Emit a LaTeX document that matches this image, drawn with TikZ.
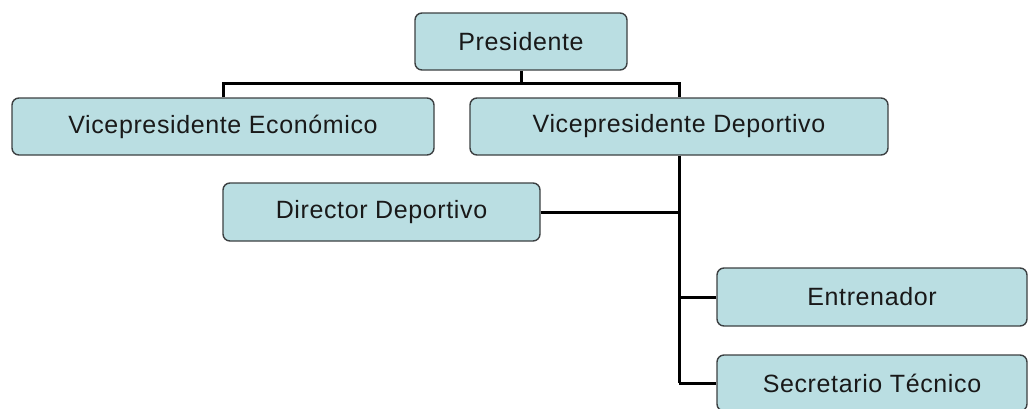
\documentclass[tikz,border=0pt]{standalone}
\usepackage{fontspec}
\setmainfont{Liberation Sans}[LetterSpace=2.5]
\definecolor{boxfill}{RGB}{186,222,226}
\definecolor{boxline}{RGB}{60,64,66}
\definecolor{txt}{RGB}{25,25,25}
\begin{document}
\begin{tikzpicture}[x=1pt,y=-1pt,
  orgbox/.style={draw=boxline,fill=boxfill,line width=1.4pt,rounded corners=7pt,
    inner sep=0pt,text=txt,font=\fontsize{25}{29}\selectfont},
  link/.style={draw=black,line width=3pt}]
\useasboundingbox (0,0) rectangle (1028,408);
\clip (0,0) rectangle (1028,408);
\node[orgbox,minimum width=212pt,minimum height=57pt] (pres) at (521,41.5) {Presidente};
\node[orgbox,minimum width=422pt,minimum height=57pt] (vpe) at (223,126.5) {Vicepresidente Económico};
\node[orgbox,minimum width=418pt,minimum height=57pt] (vpd) at (679,126.5) {Vicepresidente Deportivo};
\node[orgbox,minimum width=317pt,minimum height=58pt] (dd) at (381.5,212) {Director Deportivo};
\node[orgbox,minimum width=310pt,minimum height=58pt] (ent) at (872,297) {Entrenador};
\node[orgbox,minimum width=310pt,minimum height=56pt] (sec) at (872,383) {Secretario Técnico};
\coordinate (bus) at (521,83);
\coordinate (tend) at (679,383);
\draw[link] (pres.south) -- (bus);
\draw[link] (vpe.north) |- (bus) -| (vpd.north);
\draw[link] (vpd.south) -- (tend);
\draw[link] (dd.east) -- (dd.east -| vpd.south);
\draw[link] (ent.west) -- (ent.west -| vpd.south);
\draw[link] (sec.west) -- (tend);
\end{tikzpicture}
\end{document}
